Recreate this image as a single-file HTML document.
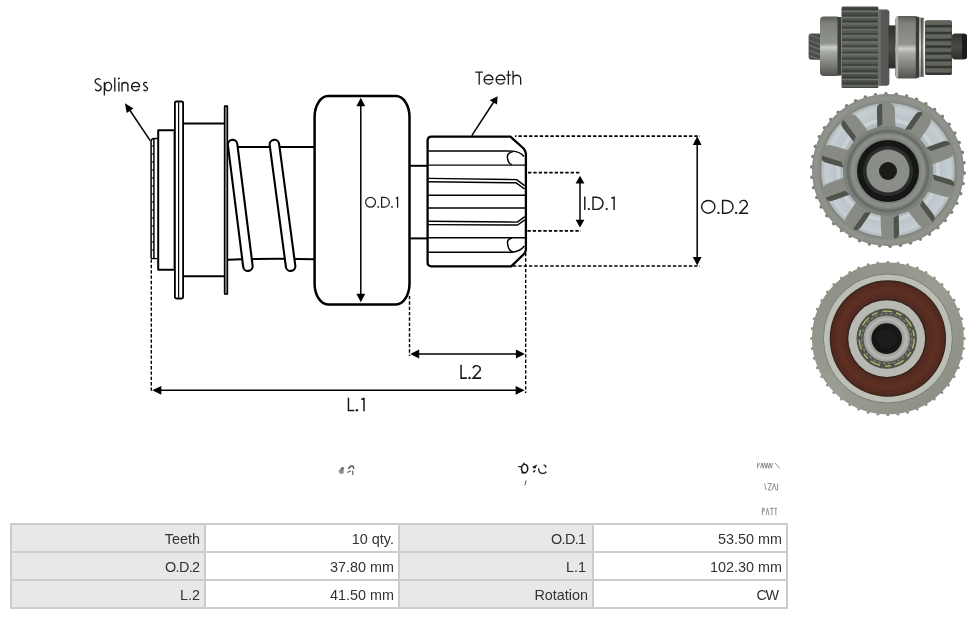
<!DOCTYPE html>
<html><head><meta charset="utf-8"><style>
html,body{margin:0;padding:0;background:#fff;width:976px;height:619px;overflow:hidden;position:relative;font-family:"Liberation Sans",sans-serif}
#draw{position:absolute;left:0;top:0}
table.specs{will-change:transform;position:absolute;left:10px;top:523px;border-collapse:separate;border-spacing:0;border:1px solid #ccc;font-family:"Liberation Sans",sans-serif;font-size:14.4px;color:#333}
table.specs td{border:1px solid #ccc;width:180px;height:26px;padding:2px 4px 0 0;text-align:right;box-sizing:border-box;line-height:24px;white-space:nowrap}
table.specs td.l{background:#e8e8e8}
table.specs td.v{background:#fff}
</style></head><body>
<svg id="draw" width="976" height="619" viewBox="0 0 976 619">
<g id="drawing" fill="none" stroke="#000" stroke-linejoin="round">

  <!-- leader arrows -->
  <line x1="150.4" y1="140.9" x2="129" y2="109" stroke-width="1.5"/>
  <polygon points="125,103.3 133.3,108.5 126.7,113" fill="#000" stroke="none"/>
  <line x1="471.8" y1="135.6" x2="494" y2="101.5" stroke-width="1.5"/>
  <polygon points="497.6,96.2 489.6,100.2 497.0,104.6" fill="#000" stroke="none"/>

  <!-- splines strip -->
  <path d="M151.1,258.6 L151.1,141.5 Q151.1,138.4 154.3,138.4 L158,138.4" stroke-width="1.5"/>
  <line x1="153.9" y1="139" x2="153.9" y2="258" stroke-width="1.5"/>
  <line x1="151.1" y1="258.6" x2="157.5" y2="258.6" stroke-width="1.3"/>
  <line x1="151.6" y1="146" x2="153.4" y2="146" stroke-width="1"/><line x1="151.6" y1="154" x2="153.4" y2="154" stroke-width="1"/><line x1="151.6" y1="162" x2="153.4" y2="162" stroke-width="1"/><line x1="151.6" y1="170" x2="153.4" y2="170" stroke-width="1"/><line x1="151.6" y1="178" x2="153.4" y2="178" stroke-width="1"/><line x1="151.6" y1="186" x2="153.4" y2="186" stroke-width="1"/><line x1="151.6" y1="194" x2="153.4" y2="194" stroke-width="1"/><line x1="151.6" y1="202" x2="153.4" y2="202" stroke-width="1"/><line x1="151.6" y1="210" x2="153.4" y2="210" stroke-width="1"/><line x1="151.6" y1="218" x2="153.4" y2="218" stroke-width="1"/><line x1="151.6" y1="226" x2="153.4" y2="226" stroke-width="1"/><line x1="151.6" y1="234" x2="153.4" y2="234" stroke-width="1"/><line x1="151.6" y1="242" x2="153.4" y2="242" stroke-width="1"/><line x1="151.6" y1="250" x2="153.4" y2="250" stroke-width="1"/>
  <!-- collar -->
  <rect x="158.2" y="130.2" width="16.4" height="139.6" stroke-width="2" fill="#fff"/>
  <!-- flange 1 -->
  <rect x="174.9" y="101.5" width="8.2" height="197" rx="1.5" stroke-width="1.8" fill="#fff"/>
  <line x1="178.6" y1="102.5" x2="178.6" y2="297.5" stroke-width="1.2"/>
  <!-- drum -->
  <line x1="183.5" y1="123.4" x2="224.5" y2="123.4" stroke-width="2"/>
  <line x1="183.5" y1="276.2" x2="224.5" y2="276.2" stroke-width="2"/>
  <!-- flange 2 -->
  <rect x="224.6" y="106.3" width="2.8" height="187.6" stroke-width="1.4" fill="#999"/>
  <!-- shaft -->
  <line x1="228" y1="146.9" x2="314.5" y2="146.9" stroke-width="2"/>
  <path d="M228,259.8 Q270,258 314.5,259.2" stroke-width="2"/>
  <!-- spring coils -->
  <line x1="232.6" y1="144.6" x2="247.9" y2="266.2" stroke="#000" stroke-width="11.6" stroke-linecap="round"/>
  <line x1="232.6" y1="144.6" x2="247.9" y2="266.2" stroke="#fff" stroke-width="7.4" stroke-linecap="round"/>
  <line x1="274.4" y1="144.6" x2="290.6" y2="266.2" stroke="#000" stroke-width="11.6" stroke-linecap="round"/>
  <line x1="274.4" y1="144.6" x2="290.6" y2="266.2" stroke="#fff" stroke-width="7.4" stroke-linecap="round"/>
  <!-- redraw flange2 over coil -->
  <rect x="224.6" y="106.3" width="2.8" height="187.6" stroke-width="1.4" fill="#999"/>

  <!-- OD1 block -->
  <rect x="314.6" y="96.1" width="94.9" height="208.3" rx="13.5" ry="21" stroke-width="2.5" fill="#fff"/>
  <line x1="360.8" y1="104" x2="360.8" y2="295" stroke-width="1.5"/>
  <polygon points="360.8,97.8 356.4,106.2 365.2,106.2" fill="#000" stroke="none"/>
  <polygon points="360.8,302.2 356.4,293.8 365.2,293.8" fill="#000" stroke="none"/>

  <!-- neck -->
  <line x1="409.5" y1="165.8" x2="428" y2="165.8" stroke-width="2"/>
  <line x1="409.5" y1="238.4" x2="428" y2="238.4" stroke-width="2"/>

  <!-- gear -->
  <path d="M431.6,136.6 L510.4,136.6 L523.6,148.5 Q525.9,151.5 525.9,154 L525.9,249.5 Q525.9,252 524,254 L511.2,266.3 L431.6,266.3 Q427.6,266.3 427.6,262.3 L427.6,140.6 Q427.6,136.6 431.6,136.6 Z" stroke-width="2.3" fill="#fff"/>
  <g stroke-width="1.45">
    <path d="M428.5,151 L512.6,151.1 Q520,151.5 524,156.5"/>
    <path d="M512.8,151.6 Q506.5,153 507.5,158.3 Q508.5,164 512,164.6"/>
    <line x1="428.5" y1="165.1" x2="525" y2="165.1"/>
    <path d="M428.5,178.4 L516.6,179.6 L524.6,185.6"/>
    <path d="M428.5,181.7 L516.2,182.8 L524.6,189"/>
    <line x1="428.5" y1="195.3" x2="525" y2="195.3"/>
    <line x1="428.5" y1="207.9" x2="525" y2="207.9"/>
    <path d="M428.5,221.3 L517.3,222.1 L524.8,216.6"/>
    <path d="M428.5,224.6 L517.6,225.0 L524.8,219.9"/>
    <line x1="428.5" y1="237.8" x2="525" y2="237.8"/>
    <path d="M511.8,238.2 Q506.8,239 507.6,243.8 Q508.5,251 513,252"/>
    <path d="M428.5,252.2 L512,252.2 Q520.5,251.5 524.3,246"/>
  </g>

  <!-- dimension extension lines (dashed) -->
  <g stroke-width="1.7" stroke-dasharray="3.35 1.98">
    <line x1="515" y1="136.2" x2="700" y2="136.2" stroke-dashoffset="1.9"/>
    <line x1="528" y1="172.6" x2="581" y2="172.6"/>
    <line x1="527.4" y1="230.8" x2="581" y2="230.8"/>
    <line x1="513" y1="266" x2="700" y2="266"/>
  </g>
  <g stroke-width="1.4" stroke-dasharray="3.35 1.98">
    <line x1="151.3" y1="259.5" x2="151.3" y2="392.5"/>
    <line x1="409.5" y1="296" x2="409.5" y2="356"/>
    <line x1="525.7" y1="253" x2="525.7" y2="393"/>
  </g>

  <!-- ID1 arrow -->
  <line x1="580" y1="182" x2="580" y2="221" stroke-width="1.5"/>
  <polygon points="580,175.8 575.6,183.4 584.4,183.4" fill="#000" stroke="none"/>
  <polygon points="580,227.4 575.6,219.8 584.4,219.8" fill="#000" stroke="none"/>
  <!-- OD2 arrow -->
  <line x1="697.2" y1="143" x2="697.2" y2="259" stroke-width="1.5"/>
  <polygon points="697.2,136.3 692.8,145 701.6,145" fill="#000" stroke="none"/>
  <polygon points="697.2,265.5 692.8,257 701.6,257" fill="#000" stroke="none"/>
  <!-- L2 arrow -->
  <line x1="417" y1="354" x2="518" y2="354" stroke-width="1.6"/>
  <polygon points="410.2,354 419.2,349.6 419.2,358.4" fill="#000" stroke="none"/>
  <polygon points="524.9,354 515.9,349.6 515.9,358.4" fill="#000" stroke="none"/>
  <!-- L1 arrow -->
  <line x1="159" y1="390.3" x2="518" y2="390.3" stroke-width="1.6"/>
  <polygon points="152.3,390.3 161.3,385.9 161.3,394.7" fill="#000" stroke="none"/>
  <polygon points="524.6,390.3 515.6,385.9 515.6,394.7" fill="#000" stroke="none"/>
<!--LABELS_START-->
<path d="M365.62,202.30A4.93,4.88 0 1 1 375.48,202.30A4.93,4.88 0 1 1 365.62,202.30Z M381.62,197.43V207.18H384.38A5.19,4.88 0 0 0 384.38,197.43Z M395.90,198.43L397.30,197.43L397.60,197.43V207.80" fill="none" stroke="#1a1a1a" stroke-width="1.25" stroke-linecap="butt" stroke-linejoin="miter"/>
<circle cx="378.20" cy="206.95" r="0.90" fill="#1a1a1a" stroke="none"/>
<circle cx="392.00" cy="206.95" r="0.90" fill="#1a1a1a" stroke="none"/>
<path d="M584.80,196.50V210.10 M593.02,197.22V209.38H596.45A6.53,6.07 0 0 0 596.45,197.22Z M611.40,198.22L613.80,197.22L614.10,197.22V210.10" fill="none" stroke="#1a1a1a" stroke-width="1.45" stroke-linecap="butt" stroke-linejoin="miter"/>
<circle cx="588.90" cy="209.10" r="1.16" fill="#1a1a1a" stroke="none"/>
<circle cx="606.70" cy="209.10" r="1.16" fill="#1a1a1a" stroke="none"/>
<path d="M701.62,206.80A6.63,6.38 0 1 1 714.88,206.80A6.63,6.38 0 1 1 701.62,206.80Z M722.62,200.42V213.18H726.19A6.88,6.38 0 0 0 726.19,200.42Z M739.73,203.28A3.85,3.85 0 0 1 747.17,205.27L739.82,213.18H748.10" fill="none" stroke="#1a1a1a" stroke-width="1.45" stroke-linecap="butt" stroke-linejoin="miter"/>
<circle cx="718.50" cy="212.90" r="1.16" fill="#1a1a1a" stroke="none"/>
<circle cx="736.10" cy="212.90" r="1.16" fill="#1a1a1a" stroke="none"/>
<path d="M461.07,364.80V378.12H466.90 M472.98,368.32A3.70,3.70 0 0 1 480.12,370.23L473.07,378.12H481.10" fill="none" stroke="#1a1a1a" stroke-width="1.55" stroke-linecap="butt" stroke-linejoin="miter"/>
<circle cx="469.50" cy="377.90" r="1.24" fill="#1a1a1a" stroke="none"/>
<path d="M348.45,397.70V410.55H354.40 M361.30,399.45L363.70,398.45L364.00,398.45V411.30" fill="none" stroke="#1a1a1a" stroke-width="1.5" stroke-linecap="butt" stroke-linejoin="miter"/>
<circle cx="356.90" cy="410.30" r="1.20" fill="#1a1a1a" stroke="none"/>
<path d="M475.20,72.05H483.00M479.20,72.05V84.80 M484.15,79.60H492.95A4.40,4.55 0 1 0 492.43,81.74 M496.15,79.60H504.95A4.40,4.55 0 1 0 504.43,81.74 M508.40,70.80V84.80M506.30,75.20H511.10 M513.05,70.80V84.80M513.05,78.85A3.80,3.61 0 0 1 520.65,78.85V84.80" fill="none" stroke="#1a1a1a" stroke-width="1.3" stroke-linecap="butt" stroke-linejoin="miter"/>
<path d="M100.40,79.88A2.93,2.83 0 0 0 95.07,81.51C95.07,84.06 101.23,84.67 101.23,87.59A3.23,3.24 0 0 1 95.21,89.21 M104.38,82.08V95.40 M104.83,86.60A3.37,4.22 0 1 1 111.58,86.60A3.37,4.22 0 1 1 104.83,86.60Z M114.80,77.60V91.50 M118.90,81.70V91.50 M121.97,82.38V91.50M121.97,85.35A2.97,2.83 0 0 1 127.92,85.35V91.50 M131.58,86.60H139.63A4.03,4.22 0 1 0 139.15,88.58 M146.99,83.21A1.88,1.97 0 0 0 143.57,84.34C143.57,86.11 147.62,86.53 147.62,88.57A2.18,2.26 0 0 1 143.57,89.70" fill="none" stroke="#1a1a1a" stroke-width="1.35" stroke-linecap="butt" stroke-linejoin="miter"/>
<circle cx="118.90" cy="78.60" r="1.00" fill="#1a1a1a" stroke="none"/>
<!--LABELS_END-->
</g>
<!--PHOTOS_START--><g id="photos" filter="url(#soft)">
<defs>
<linearGradient id="brg" x1="0" y1="0" x2="0" y2="1">
 <stop offset="0" stop-color="#5a5d59"/><stop offset="0.12" stop-color="#7f817d"/>
 <stop offset="0.45" stop-color="#919390"/><stop offset="0.52" stop-color="#cbcdc9"/>
 <stop offset="0.6" stop-color="#a6a8a4"/><stop offset="0.85" stop-color="#727470"/>
 <stop offset="1" stop-color="#4f524e"/></linearGradient>
<linearGradient id="dk" x1="0" y1="0" x2="0" y2="1">
 <stop offset="0" stop-color="#4a4d49"/><stop offset="0.5" stop-color="#5e615d"/><stop offset="1" stop-color="#454844"/></linearGradient>
<filter id="soft" x="-5%" y="-5%" width="110%" height="110%"><feGaussianBlur stdDeviation="0.45"/></filter>
<linearGradient id="dk2" x1="0" y1="0" x2="0" y2="1">
 <stop offset="0" stop-color="#2e302d"/><stop offset="0.5" stop-color="#4a4c49"/><stop offset="1" stop-color="#2a2c29"/></linearGradient>
<linearGradient id="wash" x1="0" y1="0" x2="0" y2="1">
 <stop offset="0" stop-color="#8a8c88"/><stop offset="0.5" stop-color="#d8dad6"/><stop offset="1" stop-color="#8a8c88"/></linearGradient>
<radialGradient id="disk2" cx="0.5" cy="0.5" r="0.5">
 <stop offset="0.6" stop-color="#a9b4ba"/><stop offset="0.8" stop-color="#bcc6cb"/><stop offset="0.93" stop-color="#c6ced2"/><stop offset="1" stop-color="#a8b0b4"/></radialGradient>
<linearGradient id="ring3" x1="0" y1="0" x2="1" y2="1">
 <stop offset="0" stop-color="#8a8e82"/><stop offset="0.5" stop-color="#9a9e92"/><stop offset="1" stop-color="#878b80"/></linearGradient>
<radialGradient id="seal" cx="0.5" cy="0.5" r="0.5">
 <stop offset="0.7" stop-color="#522a20"/><stop offset="0.86" stop-color="#5e3024"/><stop offset="1" stop-color="#50281e"/></radialGradient>
</defs>
<rect x="808.6" y="33.4" width="13" height="26.4" rx="3" fill="#4c504c"/>
<line x1="809.5" y1="35.0" x2="820" y2="39.0" stroke="#6e726e" stroke-width="1.2"/>
<line x1="809.5" y1="40.2" x2="820" y2="44.2" stroke="#6e726e" stroke-width="1.2"/>
<line x1="809.5" y1="45.4" x2="820" y2="49.4" stroke="#6e726e" stroke-width="1.2"/>
<line x1="809.5" y1="50.6" x2="820" y2="54.6" stroke="#6e726e" stroke-width="1.2"/>
<line x1="809.5" y1="55.8" x2="820" y2="59.8" stroke="#6e726e" stroke-width="1.2"/>
<rect x="820" y="16.5" width="20.5" height="59.5" rx="4" fill="url(#brg)"/>
<rect x="837.5" y="17" width="4" height="58.5" fill="#3a3c39"/>
<rect x="841.5" y="6.5" width="37" height="81.5" rx="1.5" fill="url(#dk)"/>
<line x1="842" y1="9.0" x2="878" y2="9.0" stroke="#393c38" stroke-width="1.3"/>
<line x1="842" y1="11.4" x2="878" y2="11.4" stroke="#71746f" stroke-width="1.2"/>
<line x1="842" y1="15.2" x2="878" y2="15.2" stroke="#393c38" stroke-width="1.3"/>
<line x1="842" y1="17.6" x2="878" y2="17.6" stroke="#71746f" stroke-width="1.2"/>
<line x1="842" y1="21.4" x2="878" y2="21.4" stroke="#393c38" stroke-width="1.3"/>
<line x1="842" y1="23.8" x2="878" y2="23.8" stroke="#71746f" stroke-width="1.2"/>
<line x1="842" y1="27.6" x2="878" y2="27.6" stroke="#393c38" stroke-width="1.3"/>
<line x1="842" y1="30.0" x2="878" y2="30.0" stroke="#71746f" stroke-width="1.2"/>
<line x1="842" y1="33.8" x2="878" y2="33.8" stroke="#393c38" stroke-width="1.3"/>
<line x1="842" y1="36.2" x2="878" y2="36.2" stroke="#71746f" stroke-width="1.2"/>
<line x1="842" y1="40.0" x2="878" y2="40.0" stroke="#393c38" stroke-width="1.3"/>
<line x1="842" y1="42.4" x2="878" y2="42.4" stroke="#71746f" stroke-width="1.2"/>
<line x1="842" y1="46.2" x2="878" y2="46.2" stroke="#393c38" stroke-width="1.3"/>
<line x1="842" y1="48.6" x2="878" y2="48.6" stroke="#71746f" stroke-width="1.2"/>
<line x1="842" y1="52.4" x2="878" y2="52.4" stroke="#393c38" stroke-width="1.3"/>
<line x1="842" y1="54.8" x2="878" y2="54.8" stroke="#71746f" stroke-width="1.2"/>
<line x1="842" y1="58.6" x2="878" y2="58.6" stroke="#393c38" stroke-width="1.3"/>
<line x1="842" y1="61.0" x2="878" y2="61.0" stroke="#71746f" stroke-width="1.2"/>
<line x1="842" y1="64.8" x2="878" y2="64.8" stroke="#393c38" stroke-width="1.3"/>
<line x1="842" y1="67.2" x2="878" y2="67.2" stroke="#71746f" stroke-width="1.2"/>
<line x1="842" y1="71.0" x2="878" y2="71.0" stroke="#393c38" stroke-width="1.3"/>
<line x1="842" y1="73.4" x2="878" y2="73.4" stroke="#71746f" stroke-width="1.2"/>
<line x1="842" y1="77.2" x2="878" y2="77.2" stroke="#393c38" stroke-width="1.3"/>
<line x1="842" y1="79.6" x2="878" y2="79.6" stroke="#71746f" stroke-width="1.2"/>
<line x1="842" y1="83.4" x2="878" y2="83.4" stroke="#393c38" stroke-width="1.3"/>
<line x1="842" y1="85.8" x2="878" y2="85.8" stroke="#71746f" stroke-width="1.2"/>
<rect x="878.4" y="9.4" width="11" height="76.4" rx="3" fill="#555854"/>
<rect x="878.4" y="9.4" width="2.5" height="76.4" fill="#6a6d69"/>
<rect x="888.5" y="25.4" width="8" height="43" fill="url(#dk2)"/>
<rect x="895.3" y="16" width="24" height="62.5" rx="4" fill="url(#brg)"/>
<rect x="896" y="17" width="2.2" height="60.5" fill="#aeb0ac"/>
<rect x="915.8" y="17" width="3.6" height="60.5" fill="#393b38"/>
<rect x="919.2" y="17.4" width="5" height="59.6" rx="1" fill="url(#wash)"/>
<rect x="921.3" y="18" width="1.3" height="58.5" fill="#3c3e3b"/>
<rect x="925" y="20.3" width="27" height="54.6" rx="2" fill="#4a4e49"/>
<rect x="925.5" y="21.0" width="26" height="3.6" rx="1" fill="#62665f"/>
<line x1="926" y1="26.2" x2="951.5" y2="26.2" stroke="#2f312e" stroke-width="1.6"/>
<rect x="925.5" y="27.8" width="26" height="3.6" rx="1" fill="#62665f"/>
<line x1="926" y1="33.0" x2="951.5" y2="33.0" stroke="#2f312e" stroke-width="1.6"/>
<rect x="925.5" y="34.6" width="26" height="3.6" rx="1" fill="#62665f"/>
<line x1="926" y1="39.8" x2="951.5" y2="39.8" stroke="#2f312e" stroke-width="1.6"/>
<rect x="925.5" y="41.4" width="26" height="3.6" rx="1" fill="#62665f"/>
<line x1="926" y1="46.6" x2="951.5" y2="46.6" stroke="#2f312e" stroke-width="1.6"/>
<rect x="925.5" y="48.2" width="26" height="3.6" rx="1" fill="#62665f"/>
<line x1="926" y1="53.4" x2="951.5" y2="53.4" stroke="#2f312e" stroke-width="1.6"/>
<rect x="925.5" y="55.0" width="26" height="3.6" rx="1" fill="#62665f"/>
<line x1="926" y1="60.2" x2="951.5" y2="60.2" stroke="#2f312e" stroke-width="1.6"/>
<rect x="925.5" y="61.8" width="26" height="3.6" rx="1" fill="#62665f"/>
<line x1="926" y1="67.0" x2="951.5" y2="67.0" stroke="#2f312e" stroke-width="1.6"/>
<rect x="925.5" y="68.6" width="26" height="3.6" rx="1" fill="#62665f"/>
<line x1="926" y1="73.8" x2="951.5" y2="73.8" stroke="#2f312e" stroke-width="1.6"/>
<rect x="951.5" y="33.4" width="15.5" height="26.2" rx="4" fill="url(#dk2)"/>
<rect x="962" y="33.8" width="5" height="25.4" rx="2.5" fill="#1e1f1d"/>
<circle cx="964.2" cy="173.1" r="1.8" fill="#7b7f77"/>
<circle cx="963.1" cy="183.5" r="1.8" fill="#7b7f77"/>
<circle cx="960.6" cy="193.6" r="1.8" fill="#7b7f77"/>
<circle cx="956.7" cy="203.2" r="1.8" fill="#7b7f77"/>
<circle cx="951.5" cy="212.3" r="1.8" fill="#7b7f77"/>
<circle cx="945.2" cy="220.5" r="1.8" fill="#7b7f77"/>
<circle cx="937.8" cy="227.8" r="1.8" fill="#7b7f77"/>
<circle cx="929.4" cy="234.1" r="1.8" fill="#7b7f77"/>
<circle cx="920.3" cy="239.1" r="1.8" fill="#7b7f77"/>
<circle cx="910.6" cy="242.9" r="1.8" fill="#7b7f77"/>
<circle cx="900.5" cy="245.3" r="1.8" fill="#7b7f77"/>
<circle cx="890.1" cy="246.3" r="1.8" fill="#7b7f77"/>
<circle cx="879.7" cy="245.8" r="1.8" fill="#7b7f77"/>
<circle cx="869.4" cy="244.0" r="1.8" fill="#7b7f77"/>
<circle cx="859.5" cy="240.8" r="1.8" fill="#7b7f77"/>
<circle cx="850.2" cy="236.3" r="1.8" fill="#7b7f77"/>
<circle cx="841.5" cy="230.5" r="1.8" fill="#7b7f77"/>
<circle cx="833.7" cy="223.6" r="1.8" fill="#7b7f77"/>
<circle cx="826.9" cy="215.7" r="1.8" fill="#7b7f77"/>
<circle cx="821.2" cy="206.9" r="1.8" fill="#7b7f77"/>
<circle cx="816.8" cy="197.5" r="1.8" fill="#7b7f77"/>
<circle cx="813.7" cy="187.6" r="1.8" fill="#7b7f77"/>
<circle cx="812.0" cy="177.3" r="1.8" fill="#7b7f77"/>
<circle cx="811.8" cy="166.9" r="1.8" fill="#7b7f77"/>
<circle cx="812.9" cy="156.5" r="1.8" fill="#7b7f77"/>
<circle cx="815.4" cy="146.4" r="1.8" fill="#7b7f77"/>
<circle cx="819.3" cy="136.8" r="1.8" fill="#7b7f77"/>
<circle cx="824.5" cy="127.7" r="1.8" fill="#7b7f77"/>
<circle cx="830.8" cy="119.5" r="1.8" fill="#7b7f77"/>
<circle cx="838.2" cy="112.2" r="1.8" fill="#7b7f77"/>
<circle cx="846.6" cy="105.9" r="1.8" fill="#7b7f77"/>
<circle cx="855.7" cy="100.9" r="1.8" fill="#7b7f77"/>
<circle cx="865.4" cy="97.1" r="1.8" fill="#7b7f77"/>
<circle cx="875.5" cy="94.7" r="1.8" fill="#7b7f77"/>
<circle cx="885.9" cy="93.7" r="1.8" fill="#7b7f77"/>
<circle cx="896.3" cy="94.2" r="1.8" fill="#7b7f77"/>
<circle cx="906.6" cy="96.0" r="1.8" fill="#7b7f77"/>
<circle cx="916.5" cy="99.2" r="1.8" fill="#7b7f77"/>
<circle cx="925.8" cy="103.7" r="1.8" fill="#7b7f77"/>
<circle cx="934.5" cy="109.5" r="1.8" fill="#7b7f77"/>
<circle cx="942.3" cy="116.4" r="1.8" fill="#7b7f77"/>
<circle cx="949.1" cy="124.3" r="1.8" fill="#7b7f77"/>
<circle cx="954.8" cy="133.1" r="1.8" fill="#7b7f77"/>
<circle cx="959.2" cy="142.5" r="1.8" fill="#7b7f77"/>
<circle cx="962.3" cy="152.4" r="1.8" fill="#7b7f77"/>
<circle cx="964.0" cy="162.7" r="1.8" fill="#7b7f77"/>
<circle cx="888" cy="170" r="76" fill="#898d85"/>
<circle cx="888" cy="170" r="72" fill="none" stroke="#8f938b" stroke-width="4"/>
<circle cx="888" cy="170" r="67.5" fill="url(#disk2)"/>
<circle cx="888" cy="170" r="67.5" fill="none" stroke="#80847e" stroke-width="1.2"/>
<circle cx="888" cy="170" r="50" fill="none" stroke="#c9d1d5" stroke-width="4"/>
<g transform="translate(888,171) rotate(-2)"><path d="M-9,-38 L-9,-61 Q-9,-68 -2,-68 L2,-68 Q9,-68 9,-61 L9,-38 Z" fill="#878b83"/><path d="M-9,-44 L-9,-61 Q-9,-67 -5,-67.5 L-3.5,-67.5 L-4,-47 Z" fill="#4f534c"/></g>
<g transform="translate(888,171) rotate(34)"><path d="M-9,-38 L-9,-61 Q-9,-68 -2,-68 L2,-68 Q9,-68 9,-61 L9,-38 Z" fill="#878b83"/><path d="M-9,-44 L-9,-61 Q-9,-67 -5,-67.5 L-3.5,-67.5 L-4,-47 Z" fill="#4f534c"/></g>
<g transform="translate(888,171) rotate(70)"><path d="M-9,-38 L-9,-61 Q-9,-68 -2,-68 L2,-68 Q9,-68 9,-61 L9,-38 Z" fill="#878b83"/><path d="M-9,-44 L-9,-61 Q-9,-67 -5,-67.5 L-3.5,-67.5 L-4,-47 Z" fill="#4f534c"/></g>
<g transform="translate(888,171) rotate(106)"><path d="M-9,-38 L-9,-61 Q-9,-68 -2,-68 L2,-68 Q9,-68 9,-61 L9,-38 Z" fill="#878b83"/><path d="M-9,-44 L-9,-61 Q-9,-67 -5,-67.5 L-3.5,-67.5 L-4,-47 Z" fill="#4f534c"/></g>
<g transform="translate(888,171) rotate(142)"><path d="M-9,-38 L-9,-61 Q-9,-68 -2,-68 L2,-68 Q9,-68 9,-61 L9,-38 Z" fill="#878b83"/><path d="M-9,-44 L-9,-61 Q-9,-67 -5,-67.5 L-3.5,-67.5 L-4,-47 Z" fill="#4f534c"/></g>
<g transform="translate(888,171) rotate(178)"><path d="M-9,-38 L-9,-61 Q-9,-68 -2,-68 L2,-68 Q9,-68 9,-61 L9,-38 Z" fill="#878b83"/><path d="M-9,-44 L-9,-61 Q-9,-67 -5,-67.5 L-3.5,-67.5 L-4,-47 Z" fill="#4f534c"/></g>
<g transform="translate(888,171) rotate(214)"><path d="M-9,-38 L-9,-61 Q-9,-68 -2,-68 L2,-68 Q9,-68 9,-61 L9,-38 Z" fill="#878b83"/><path d="M-9,-44 L-9,-61 Q-9,-67 -5,-67.5 L-3.5,-67.5 L-4,-47 Z" fill="#4f534c"/></g>
<g transform="translate(888,171) rotate(250)"><path d="M-9,-38 L-9,-61 Q-9,-68 -2,-68 L2,-68 Q9,-68 9,-61 L9,-38 Z" fill="#878b83"/><path d="M-9,-44 L-9,-61 Q-9,-67 -5,-67.5 L-3.5,-67.5 L-4,-47 Z" fill="#4f534c"/></g>
<g transform="translate(888,171) rotate(286)"><path d="M-9,-38 L-9,-61 Q-9,-68 -2,-68 L2,-68 Q9,-68 9,-61 L9,-38 Z" fill="#878b83"/><path d="M-9,-44 L-9,-61 Q-9,-67 -5,-67.5 L-3.5,-67.5 L-4,-47 Z" fill="#4f534c"/></g>
<g transform="translate(888,171) rotate(322)"><path d="M-9,-38 L-9,-61 Q-9,-68 -2,-68 L2,-68 Q9,-68 9,-61 L9,-38 Z" fill="#878b83"/><path d="M-9,-44 L-9,-61 Q-9,-67 -5,-67.5 L-3.5,-67.5 L-4,-47 Z" fill="#4f534c"/></g>
<circle cx="888" cy="171" r="45" fill="#7d817b"/>
<circle cx="888" cy="171" r="40" fill="none" stroke="#6a6e68" stroke-width="3"/>
<circle cx="888" cy="171" r="35" fill="none" stroke="#8a8e88" stroke-width="4"/>
<circle cx="888" cy="171" r="31" fill="#171816"/>
<circle cx="888" cy="171" r="25" fill="#2c2e2b"/>
<circle cx="888" cy="171" r="21.5" fill="#8b8e88"/>
<circle cx="888" cy="171" r="9" fill="#1a1b19"/>
<circle cx="964.2" cy="338.5" r="1.5" fill="#8f9189"/>
<circle cx="963.5" cy="348.5" r="1.5" fill="#8f9189"/>
<circle cx="961.6" cy="358.2" r="1.5" fill="#8f9189"/>
<circle cx="958.4" cy="367.7" r="1.5" fill="#8f9189"/>
<circle cx="954.0" cy="376.6" r="1.5" fill="#8f9189"/>
<circle cx="948.4" cy="384.9" r="1.5" fill="#8f9189"/>
<circle cx="941.9" cy="392.5" r="1.5" fill="#8f9189"/>
<circle cx="934.3" cy="399.0" r="1.5" fill="#8f9189"/>
<circle cx="926.0" cy="404.6" r="1.5" fill="#8f9189"/>
<circle cx="917.1" cy="409.0" r="1.5" fill="#8f9189"/>
<circle cx="907.6" cy="412.2" r="1.5" fill="#8f9189"/>
<circle cx="897.9" cy="414.1" r="1.5" fill="#8f9189"/>
<circle cx="887.9" cy="414.8" r="1.5" fill="#8f9189"/>
<circle cx="877.9" cy="414.1" r="1.5" fill="#8f9189"/>
<circle cx="868.2" cy="412.2" r="1.5" fill="#8f9189"/>
<circle cx="858.7" cy="409.0" r="1.5" fill="#8f9189"/>
<circle cx="849.8" cy="404.6" r="1.5" fill="#8f9189"/>
<circle cx="841.5" cy="399.0" r="1.5" fill="#8f9189"/>
<circle cx="833.9" cy="392.5" r="1.5" fill="#8f9189"/>
<circle cx="827.4" cy="384.9" r="1.5" fill="#8f9189"/>
<circle cx="821.8" cy="376.6" r="1.5" fill="#8f9189"/>
<circle cx="817.4" cy="367.7" r="1.5" fill="#8f9189"/>
<circle cx="814.2" cy="358.2" r="1.5" fill="#8f9189"/>
<circle cx="812.3" cy="348.5" r="1.5" fill="#8f9189"/>
<circle cx="811.6" cy="338.5" r="1.5" fill="#8f9189"/>
<circle cx="812.3" cy="328.5" r="1.5" fill="#8f9189"/>
<circle cx="814.2" cy="318.8" r="1.5" fill="#8f9189"/>
<circle cx="817.4" cy="309.3" r="1.5" fill="#8f9189"/>
<circle cx="821.8" cy="300.4" r="1.5" fill="#8f9189"/>
<circle cx="827.4" cy="292.1" r="1.5" fill="#8f9189"/>
<circle cx="833.9" cy="284.5" r="1.5" fill="#8f9189"/>
<circle cx="841.5" cy="278.0" r="1.5" fill="#8f9189"/>
<circle cx="849.8" cy="272.4" r="1.5" fill="#8f9189"/>
<circle cx="858.7" cy="268.0" r="1.5" fill="#8f9189"/>
<circle cx="868.2" cy="264.8" r="1.5" fill="#8f9189"/>
<circle cx="877.9" cy="262.9" r="1.5" fill="#8f9189"/>
<circle cx="887.9" cy="262.2" r="1.5" fill="#8f9189"/>
<circle cx="897.9" cy="262.9" r="1.5" fill="#8f9189"/>
<circle cx="907.6" cy="264.8" r="1.5" fill="#8f9189"/>
<circle cx="917.1" cy="268.0" r="1.5" fill="#8f9189"/>
<circle cx="926.0" cy="272.4" r="1.5" fill="#8f9189"/>
<circle cx="934.3" cy="278.0" r="1.5" fill="#8f9189"/>
<circle cx="941.9" cy="284.5" r="1.5" fill="#8f9189"/>
<circle cx="948.4" cy="292.1" r="1.5" fill="#8f9189"/>
<circle cx="954.0" cy="300.3" r="1.5" fill="#8f9189"/>
<circle cx="958.4" cy="309.3" r="1.5" fill="#8f9189"/>
<circle cx="961.6" cy="318.8" r="1.5" fill="#8f9189"/>
<circle cx="963.5" cy="328.5" r="1.5" fill="#8f9189"/>
<circle cx="887.9" cy="338.5" r="76" fill="url(#ring3)"/>
<circle cx="887.9" cy="338.5" r="64.5" fill="#bbbfb6"/>
<circle cx="887.9" cy="338.5" r="64.5" fill="none" stroke="#6e726a" stroke-width="0.8"/>
<circle cx="887.9" cy="338.5" r="58.2" fill="#3a271f"/>
<circle cx="887.9" cy="338.5" r="56.8" fill="url(#seal)"/>
<circle cx="886.7" cy="338.6" r="39.8" fill="#33241f"/>
<circle cx="886.7" cy="338.6" r="38.4" fill="#b8b9b3"/>
<circle cx="886.7" cy="338.6" r="30.2" fill="#50534a"/>
<circle cx="886.7" cy="338.6" r="27.5" fill="none" stroke="#a9b66c" stroke-width="1.4" stroke-dasharray="10 4 6 5"/>
<circle cx="886.7" cy="338.6" r="25" fill="none" stroke="#7a7c72" stroke-width="1.5" stroke-dasharray="3 2"/>
<circle cx="886.7" cy="338.6" r="23.2" fill="#a2a39e"/>
<circle cx="886.7" cy="338.6" r="19.5" fill="none" stroke="#b4b5b0" stroke-width="3"/>
<circle cx="886.7" cy="338.6" r="15.3" fill="#151614"/>
<circle cx="886.7" cy="338.6" r="10" fill="#1d1e1c"/>
</g><!--PHOTOS_END-->
<g id="artifacts">
  <path d="M338.5,471 L342,467 L343.6,467.5 L343.6,473.5 L340,473.8 Z" fill="#8a8a8a"/>
  <path d="M340.5,468.5 L343.5,467 L343.5,469.5 Z" fill="#555"/>
  <path d="M348.5,469 Q350,465.5 352.5,466 Q354,466.6 353.6,469" fill="none" stroke="#555" stroke-width="1.4"/>
  <path d="M347,472.5 L351,470.8 M352.6,470.5 L352.8,475" fill="none" stroke="#666" stroke-width="1.2"/>
  <ellipse cx="524.6" cy="468.6" rx="3.1" ry="4.3" fill="none" stroke="#1e1e1e" stroke-width="1.6"/>
  <path d="M518.2,466.6 H521.6 M523.9,462.6 V464.6" fill="none" stroke="#222" stroke-width="1.3"/>
  <circle cx="522.6" cy="472.6" r="1.1" fill="#111"/>
  <path d="M532.8,467.4 L536.8,465.4 M532.8,467.6 H536 M533.2,472.2 L535.2,470.2" fill="none" stroke="#1e1e1e" stroke-width="1.5"/>
  <path d="M545.6,467.6 Q546.2,465 543.6,465.2 M538.6,468.2 Q538.6,473.4 542.6,473.5 Q545.2,473.5 546.4,471.6" fill="none" stroke="#2a2a2a" stroke-width="1.4"/>
  <path d="M526.2,480.3 L524.8,485.4" fill="none" stroke="#666" stroke-width="1.1"/>
  <g fill="none" stroke="#777" stroke-width="0.8">
    <path d="M757.6,462.6 V468.4 M758,466 L760,463 M760.5,468.3 L762,463 L763.3,468.3 L764.6,463 L766,468.3 L767.3,463 L768.6,468.3 L770,463 L771.3,468.3 L772.6,463 M775,463 L779.6,468.4"/>
    <path d="M764.5,483.5 L766,490 M767.5,483.5 H771.5 L768,490 H771.5 M772.3,490 L774.2,483.5 L776,490 H777.6 V483.5"/>
    <path d="M762.4,508.3 V515.2 M762.4,508.3 H764.2 V511 H762.4 M766,515.2 L767.5,508.3 L769,515.2 M770,508.3 H773.5 M771.8,508.3 V515.2 M774.5,508.3 H777 M775.8,508.3 V515.2"/>
  </g>
</g>
</svg>
<table class="specs">
<tr><td class="l" style="width:194px">Teeth</td><td class="v" style="width:194px">10 qty.</td><td class="l" style="width:194px;letter-spacing:-0.6px;padding-right:6.5px">O.D.1</td><td class="v" style="width:194px">53.50 mm</td></tr>
<tr><td class="l" style="letter-spacing:-0.6px;padding-right:4.5px">O.D.2</td><td class="v">37.80 mm</td><td class="l" style="padding-right:6px">L.1</td><td class="v">102.30 mm</td></tr>
<tr><td class="l">L.2</td><td class="v">41.50 mm</td><td class="l">Rotation</td><td class="v" style="padding-right:8px;letter-spacing:-1.2px">CW</td></tr>
</table>
</body></html>
